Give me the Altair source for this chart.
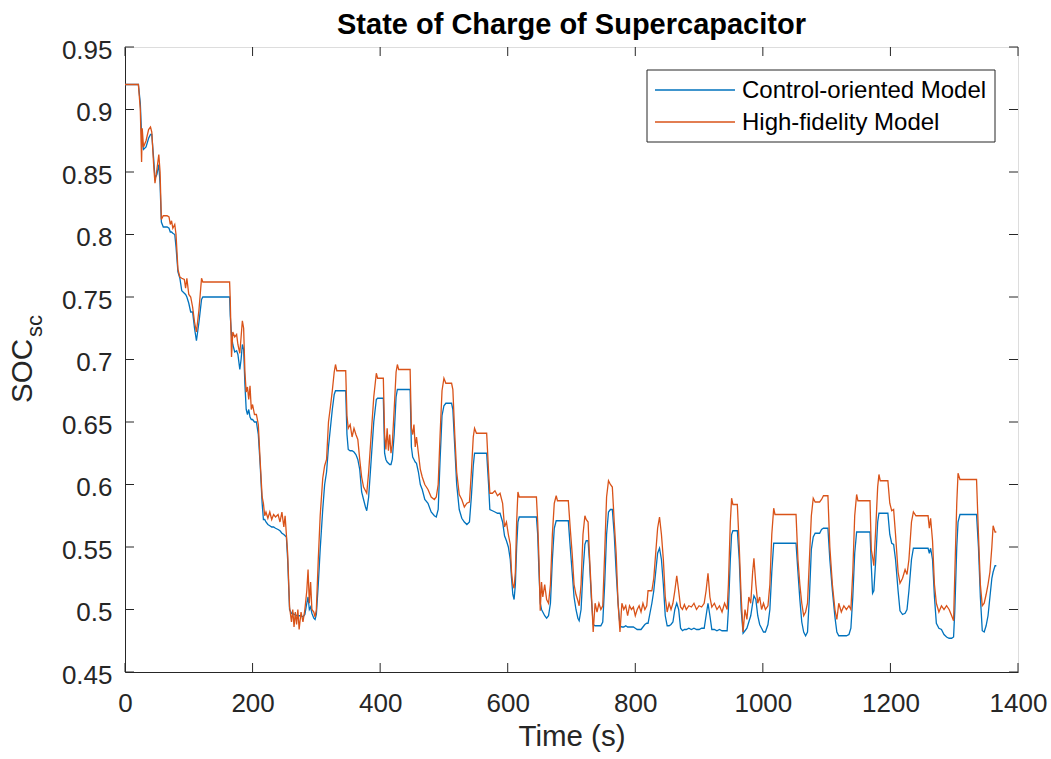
import altair as alt
import pandas as pd

# ---- data ----
time_s = [
    0, 21, 24, 26, 27, 29, 33, 37, 40, 42,
    45, 47, 50, 53, 55, 57, 60, 66, 69, 71,
    73, 75, 78, 80, 83, 86, 89, 93, 95, 97,
    100, 103, 106, 109, 112, 116, 120, 122, 164, 165,
    167, 169, 172, 175, 177, 180, 182, 184, 186, 188,
    190, 192, 194, 196, 198, 200, 203, 206, 209, 212,
    215, 217, 219, 221, 224, 227, 230, 233, 236, 240,
    243, 246, 249, 251, 253, 255, 258, 261, 263, 265,
    267, 269, 271, 273, 276, 279, 282, 285, 287, 289,
    291, 293, 296, 298, 300, 303, 306, 310, 313, 316,
    319, 322, 325, 328, 330, 332, 346, 348, 350, 353,
    356, 359, 362, 365, 368, 371, 374, 377, 379, 382,
    386, 390, 394, 396, 405, 407, 409, 411, 413, 415,
    417, 419, 422, 425, 427, 429, 447, 449, 451, 453,
    455, 457, 460, 463, 466, 470, 475, 480, 485, 488,
    491, 494, 497, 500, 503, 512, 514, 517, 520, 524,
    528, 532, 536, 540, 543, 546, 548, 551, 567, 570,
    572, 576, 580, 584, 588, 592, 595, 598, 601, 604,
    606, 608, 610, 612, 614, 616, 618, 645, 647, 649,
    651, 653, 655, 658, 661, 664, 667, 670, 673, 676,
    678, 695, 698, 701, 704, 707, 710, 712, 715, 718,
    721, 723, 726, 728, 731, 734, 737, 740, 743, 746,
    749, 752, 755, 758, 761, 764, 767, 770, 773, 776,
    779, 782, 785, 788, 791, 794, 797, 800, 803, 806,
    809, 812, 815, 818, 820, 823, 826, 829, 832, 835,
    838, 841, 844, 847, 850, 853, 856, 859, 862, 865,
    868, 871, 874, 877, 880, 884, 888, 892, 896, 900,
    904, 908, 911, 914, 917, 920, 924, 928, 932, 936,
    940, 944, 946, 949, 951, 953, 960, 963, 966, 969,
    972, 975, 978, 981, 984, 986, 989, 992, 995, 998,
    1001, 1004, 1008, 1011, 1014, 1017, 1019, 1052, 1055, 1058,
    1061, 1064, 1067, 1070, 1073, 1076, 1079, 1082, 1089, 1092,
    1095, 1102, 1105, 1109, 1113, 1116, 1119, 1123, 1127, 1131,
    1135, 1138, 1141, 1144, 1147, 1149, 1168, 1170, 1172, 1174,
    1177, 1180, 1182, 1184, 1196, 1199, 1202, 1205, 1208, 1212,
    1215, 1219, 1223, 1226, 1229, 1233, 1236, 1240, 1259, 1261,
    1263, 1266, 1269, 1272, 1276, 1280, 1284, 1288, 1292, 1296,
    1299, 1301, 1304, 1306, 1309, 1335, 1338, 1341, 1344, 1347,
    1350, 1353, 1356, 1359, 1361, 1364, 1366,
]

soc_control = [
    .920, .920, .905, .880, .875, .868, .870, .877, .880, .880,
    .860, .845, .848, .856, .840, .810, .806, .806, .805, .802,
    .802, .801, .800, .790, .770, .765, .755, .753, .752, .750,
    .745, .738, .738, .725, .715, .730, .748, .750, .750, .735,
    .720, .712, .706, .707, .704, .692, .700, .712, .708, .680,
    .660, .656, .660, .654, .652, .652, .650, .650, .640, .615,
    .585, .572, .572, .570, .568, .567, .566, .566, .565, .564,
    .563, .561, .560, .559, .558, .540, .500, .497, .497, .496,
    .496, .495, .495, .495, .495, .494, .496, .505, .510, .500,
    .502, .497, .493, .492, .496, .520, .548, .580, .600, .610,
    .630, .645, .660, .672, .675, .675, .675, .640, .628, .627,
    .627, .626, .624, .620, .612, .594, .588, .582, .579, .590,
    .620, .650, .668, .669, .669, .625, .620, .618, .617, .616,
    .616, .620, .640, .670, .676, .676, .676, .630, .622, .620,
    .618, .617, .610, .600, .596, .588, .585, .578, .575, .574,
    .580, .620, .655, .663, .665, .665, .660, .630, .600, .580,
    .573, .570, .568, .570, .590, .615, .625, .625, .625, .600,
    .580, .579, .578, .577, .577, .570, .559, .555, .550, .540,
    .525, .512, .508, .520, .550, .570, .574, .574, .560, .530,
    .505, .500, .498, .495, .493, .495, .505, .540, .565, .571,
    .571, .571, .550, .530, .510, .500, .493, .491, .500, .530,
    .552, .555, .555, .540, .510, .488, .487, .487, .487, .487,
    .490, .520, .560, .578, .580, .580, .560, .530, .505, .487,
    .486, .486, .487, .486, .486, .486, .486, .485, .484, .484,
    .484, .486, .488, .489, .489, .497, .505, .515, .530, .545,
    .549, .540, .520, .495, .487, .487, .488, .490, .500, .505,
    .500, .485, .483, .484, .484, .485, .484, .485, .484, .484,
    .485, .485, .495, .505, .495, .484, .484, .483, .484, .483,
    .483, .483, .500, .540, .560, .563, .563, .540, .500, .481,
    .483, .485, .490, .495, .505, .511, .508, .495, .488, .485,
    .482, .482, .488, .500, .530, .553, .553, .553, .530, .508,
    .490, .482, .479, .482, .510, .548, .558, .561, .561, .564,
    .565, .565, .540, .515, .494, .482, .479, .479, .479, .479,
    .480, .485, .510, .545, .562, .562, .562, .535, .513, .515,
    .540, .570, .577, .577, .577, .560, .553, .552, .540, .515,
    .499, .496, .497, .500, .515, .540, .549, .549, .549, .545,
    .549, .540, .510, .489, .485, .484, .480, .478, .477, .477,
    .478, .500, .550, .570, .576, .576, .550, .510, .483, .482,
    .487, .495, .510, .525, .530, .535, .535,
]

soc_highfid = [
    .920, .920, .900, .858, .885, .870, .875, .884, .886, .882,
    .855, .841, .852, .864, .850, .812, .815, .815, .814, .808,
    .811, .805, .808, .800, .772, .766, .765, .764, .757, .765,
    .752, .750, .742, .730, .722, .740, .765, .762, .762, .748,
    .702, .722, .718, .720, .712, .705, .718, .731, .725, .690,
    .674, .678, .668, .679, .660, .664, .656, .656, .648, .618,
    .590, .585, .575, .578, .573, .578, .572, .576, .574, .576,
    .570, .578, .566, .575, .560, .545, .502, .490, .500, .486,
    .498, .488, .500, .484, .498, .490, .500, .515, .532, .505,
    .522, .500, .498, .494, .500, .540, .575, .605, .615, .620,
    .650, .662, .675, .690, .696, .691, .691, .655, .645, .648,
    .638, .645, .640, .636, .620, .606, .598, .595, .593, .610,
    .640, .670, .689, .685, .685, .640, .628, .645, .627, .640,
    .625, .632, .660, .690, .696, .692, .692, .645, .640, .648,
    .630, .638, .625, .612, .606, .600, .596, .590, .588, .590,
    .600, .640, .675, .685, .681, .681, .676, .640, .610, .592,
    .588, .582, .585, .586, .610, .638, .645, .641, .641, .610,
    .593, .593, .595, .591, .593, .585, .566, .570, .560, .552,
    .530, .520, .517, .530, .570, .594, .590, .590, .570, .540,
    .499, .522, .510, .520, .508, .505, .520, .560, .585, .591,
    .587, .587, .565, .545, .520, .512, .507, .503, .520, .560,
    .575, .572, .570, .545, .515, .482, .505, .498, .505, .500,
    .503, .545, .590, .603, .600, .598, .570, .545, .505, .482,
    .505, .500, .503, .495, .503, .500, .502, .495, .500, .503,
    .498, .505, .500, .503, .515, .515, .515, .525, .545, .565,
    .574, .560, .540, .510, .498, .505, .500, .505, .515, .527,
    .515, .502, .500, .504, .500, .503, .502, .505, .500, .503,
    .502, .505, .515, .529, .510, .502, .505, .500, .503, .498,
    .505, .500, .520, .570, .589, .584, .584, .550, .510, .482,
    .500, .492, .510, .505, .530, .541, .520, .505, .510, .500,
    .505, .500, .503, .520, .560, .581, .576, .576, .540, .520,
    .505, .495, .498, .505, .540, .575, .589, .586, .586, .588,
    .591, .591, .550, .520, .500, .492, .505, .498, .503, .500,
    .503, .500, .530, .575, .592, .587, .587, .548, .542, .535,
    .565, .598, .608, .603, .603, .585, .579, .580, .560, .530,
    .521, .525, .532, .528, .540, .570, .578, .575, .575, .565,
    .573, .555, .520, .505, .498, .503, .500, .503, .500, .495,
    .491, .530, .585, .609, .604, .604, .560, .520, .503, .505,
    .512, .520, .530, .550, .567, .562, .562,
]

series_names = ["Control-oriented Model", "High-fidelity Model"]
series_colors = ["#0072BD", "#D95319"]
x_ticks = [0, 200, 400, 600, 800, 1000, 1200, 1400]
y_ticks = [0.45, 0.5, 0.55, 0.6, 0.65, 0.7, 0.75, 0.8, 0.85, 0.9, 0.95]

W, H = 893, 625
FONT = "Liberation Sans"
INK = "#262626"

df_c = pd.DataFrame({"t": time_s, "soc": soc_control})
df_h = pd.DataFrame({"t": time_s, "soc": soc_highfid})

xs = alt.Scale(domain=[0, 1400], nice=False)
ys = alt.Scale(domain=[0.45, 0.95], nice=False)

x_axis = alt.Axis(values=x_ticks, format="d", grid=False, ticks=False, tickSize=0,
                  labelFontSize=26, labelColor=INK, labelPadding=18, labelFont=FONT,
                  labelFlush=False, labelOverlap=False,
                  domainColor=INK, title="Time (s)", titleFontSize=29.5,
                  titleFontWeight="normal", titleColor=INK, titleFont=FONT,
                  titlePadding=6)
y_axis = alt.Axis(values=y_ticks, format=".2~f", grid=False, ticks=False, tickSize=0,
                  labelFontSize=26, labelColor=INK, labelPadding=13, labelFont=FONT,
                  labelFlush=False, labelOverlap=False,
                  labelOffset=3, domainColor=INK, title="")

line_c = alt.Chart(df_c).mark_line(color=series_colors[0], strokeWidth=1.3).encode(
    x=alt.X("t:Q", scale=xs, axis=x_axis),
    y=alt.Y("soc:Q", scale=ys, axis=y_axis),
)
line_h = alt.Chart(df_h).mark_line(color=series_colors[1], strokeWidth=1.3).encode(
    x=alt.X("t:Q", scale=xs),
    y=alt.Y("soc:Q", scale=ys),
)

# inward ticks (MATLAB box style)
xt = pd.DataFrame({"v": x_ticks})
yt = pd.DataFrame({"v": y_ticks})
tick_b = alt.Chart(xt).mark_rule(color=INK, strokeWidth=1).encode(
    x=alt.X("v:Q", scale=xs), y=alt.value(H), y2=alt.value(H - 9))
tick_t = alt.Chart(xt).mark_rule(color=INK, strokeWidth=1).encode(
    x=alt.X("v:Q", scale=xs), y=alt.value(0), y2=alt.value(9))
tick_l = alt.Chart(yt).mark_rule(color=INK, strokeWidth=1).encode(
    y=alt.Y("v:Q", scale=ys), x=alt.value(0), x2=alt.value(9))
tick_r = alt.Chart(yt).mark_rule(color=INK, strokeWidth=1).encode(
    y=alt.Y("v:Q", scale=ys), x=alt.value(W), x2=alt.value(W - 9))

one = pd.DataFrame({"a": [0]})

# y-axis title with subscript
ylab_main = alt.Chart(one).mark_text(text="SOC", angle=270, fontSize=29.5, font=FONT,
                                     color=INK, align="center", baseline="middle").encode(
    x=alt.value(-102), y=alt.value(324))
ylab_sub = alt.Chart(one).mark_text(text="sc", angle=270, fontSize=22, font=FONT,
                                    color=INK, align="center", baseline="middle").encode(
    x=alt.value(-90), y=alt.value(279))

# legend box
leg_box = alt.Chart(one).mark_rect(fill="white", stroke=INK, strokeWidth=1).encode(
    x=alt.value(522), x2=alt.value(870), y=alt.value(23), y2=alt.value(95))
leg_l1 = alt.Chart(one).mark_rule(color=series_colors[0], strokeWidth=1.3).encode(
    x=alt.value(530), x2=alt.value(610), y=alt.value(43))
leg_l2 = alt.Chart(one).mark_rule(color=series_colors[1], strokeWidth=1.3).encode(
    x=alt.value(530), x2=alt.value(610), y=alt.value(75))
leg_t1 = alt.Chart(one).mark_text(text=series_names[0], fontSize=24, font=FONT,
                                  color="#000000", align="left", baseline="middle").encode(
    x=alt.value(617), y=alt.value(44))
leg_t2 = alt.Chart(one).mark_text(text=series_names[1], fontSize=24, font=FONT,
                                  color="#000000", align="left", baseline="middle").encode(
    x=alt.value(617), y=alt.value(76))

chart = alt.layer(
    line_c, line_h, tick_b, tick_t, tick_l, tick_r,
    ylab_main, ylab_sub, leg_box, leg_l1, leg_l2, leg_t1, leg_t2,
).properties(
    width=W, height=H,
    title=alt.TitleParams("State of Charge of Supercapacitor", fontSize=29,
                          fontWeight="bold", font=FONT, color="#000000",
                          anchor="middle", frame="group", offset=-3),
    autosize=alt.AutoSizeParams(type="none"),
    padding={"left": 125, "top": 47, "right": 33, "bottom": 87},
).configure_view(
    stroke=INK, strokeWidth=1
).configure(background="white")

chart.save("out.html", embed_options={"renderer": "svg", "actions": False})
